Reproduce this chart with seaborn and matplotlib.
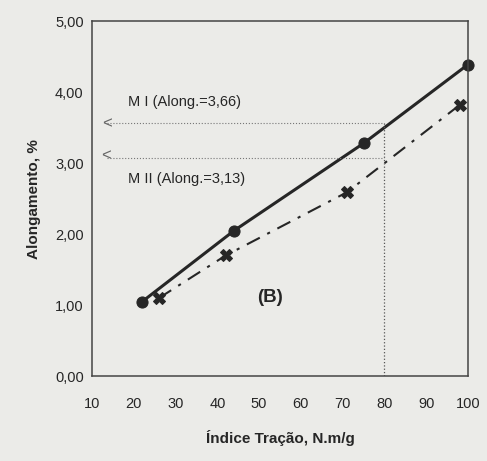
import pandas as pd
import matplotlib.pyplot as plt
import seaborn as sns

# dados
indice_m1 = [22, 44, 75, 100]
along_m1 = [1.05, 2.05, 3.28, 4.39]
indice_m2 = [26, 42, 71, 98]
along_m2 = [1.10, 1.70, 2.59, 3.82]
ref_indice = 80
ref_m1 = 3.66
ref_m2 = 3.13

df = pd.DataFrame({
    "x": indice_m1 + indice_m2,
    "y": along_m1 + along_m2,
    "serie": ["M I"] * 4 + ["M II"] * 4,
})

sns.set_style("white")
plt.rcParams["font.family"] = ["Liberation Sans", "DejaVu Sans"]
cor = "#262626"
fundo = "#ebebe8"

fig = plt.figure(figsize=(4.87, 4.61), dpi=100, facecolor=fundo)
ax = fig.add_axes([0.189, 0.184, 0.772, 0.77])
ax.set_facecolor(fundo)

sns.lineplot(data=df[df.serie == "M I"], x="x", y="y", ax=ax, color=cor,
             linewidth=2.2, marker="o", markersize=8, markeredgecolor=cor)
sns.lineplot(data=df[df.serie == "M II"], x="x", y="y", ax=ax, color=cor,
             linewidth=1.5, marker="X", markersize=9, markeredgecolor=cor)
ax.lines[1].set_dashes([7, 4, 1.5, 4])
for ln in ax.lines:
    ln.set_clip_on(False)

# linhas de referencia
ax.plot([13.5, ref_indice], [ref_m1 - 0.1, ref_m1 - 0.1], color="#777777", lw=0.8, ls=":")
ax.plot([13.5, ref_indice], [ref_m2 - 0.05, ref_m2 - 0.05], color="#777777", lw=0.8, ls=":")
ax.plot([ref_indice, ref_indice], [0, ref_m1 - 0.1], color="#555555", lw=0.9, ls=":")
ax.text(12.5, ref_m1 - 0.1, "<", fontsize=12, color="#666666", va="center", ha="left")
ax.text(12.2, ref_m2 - 0.02, "<", fontsize=12, color="#666666", va="center", ha="left")
ax.text(18.5, 3.80, "M I (Along.=3,66)", fontsize=10.5, color=cor)
ax.text(18.5, 2.72, "M II (Along.=3,13)", fontsize=10.5, color=cor)
ax.text(49.5, 1.05, "(B)", fontsize=13.5, color=cor, fontweight="bold")

ax.set_xlim(10, 100)
ax.set_ylim(0, 5)
ax.set_xticks(range(10, 101, 10))
ax.set_yticks([0, 1, 2, 3, 4, 5])
ax.set_yticklabels(["0,00", "1,00", "2,00", "3,00", "4,00", "5,00"])
ax.tick_params(direction="inout", length=6, width=1, colors=cor, labelsize=10.5)
ax.tick_params(axis="x", pad=12)
ax.tick_params(axis="y", pad=3)
for s in ax.spines.values():
    s.set_color("#444444")
    s.set_linewidth(1.1)

ax.set_xlabel("Índice Tração, N.m/g", fontsize=11, fontweight="bold", color=cor, labelpad=14)
ax.set_ylabel("Alongamento, %", fontsize=11, fontweight="bold", color=cor, labelpad=10)

fig.savefig("out.png", dpi=100, facecolor=fundo)
